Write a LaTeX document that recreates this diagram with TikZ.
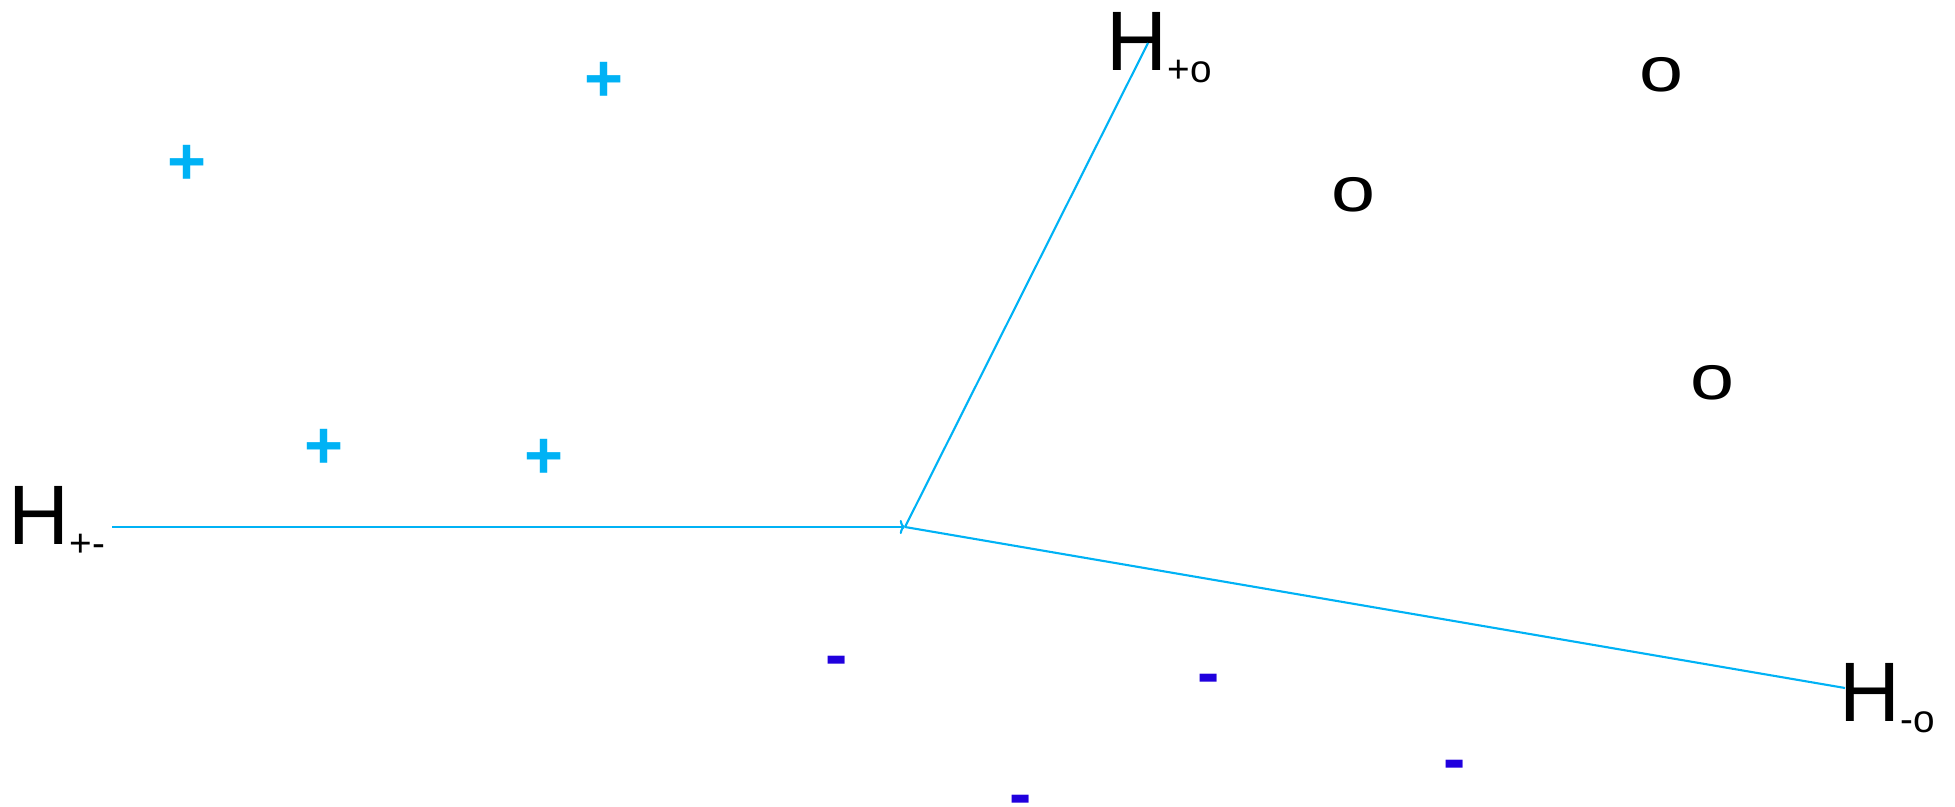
\documentclass[tikz,border=0pt]{standalone}
\usepackage{fontspec}
\setmainfont{Liberation Sans}
\usetikzlibrary{arrows.meta}

\definecolor{plusblue}{RGB}{0,178,245}
\definecolor{minusblue}{RGB}{32,0,222}

\newcommand{\hsub}[1]{\raisebox{-3.4pt}{\fontsize{11}{11}\selectfont #1}}

\tikzset{
  hlabel/.style={inner sep=0pt, anchor=base west, font=\fontsize{24}{24}\selectfont},
  sign/.style={inner sep=0pt, font=\bfseries\fontsize{19}{19}\selectfont},
  ring/.style={inner sep=0pt, xscale=1.25, font=\fontsize{18}{18}\selectfont},
  wire/.style={plusblue, line width=0.6pt}
}

\begin{document}
\begin{tikzpicture}[x=0.01cm,y=-0.01cm]
%
	\useasboundingbox (0,0) rectangle (1955,807);
%
	\node[hlabel] (Hpm) at (8,545) {H\hsub{+-}};
	\node[hlabel] (Hpo) at (1106,71) {H\hsub{+o}};
	\node[hlabel] (Hmo) at (1839,721) {H\hsub{-o}};
%
	\coordinate (c) at (905,527);
	\coordinate (pm) at (112,527);
	\coordinate (po) at (1148,43);
	\coordinate (mo) at (1845,688);
	\draw[wire, -{To[length=1.5pt,width=4pt]}] (pm) -- (c);
	\draw[wire] (c) -- (po);
	\draw[wire] (c) -- (mo);
%
	\node[sign, plusblue] (p1) at (187,165) {+};
	\node[sign, plusblue] (p2) at (604,82) {+};
	\node[sign, plusblue] (p3) at (324,449) {+};
	\node[sign, plusblue] (p4) at (544,459) {+};
%
	\node[ring] (o1) at (1661,75) {o};
	\node[ring] (o2) at (1353,195) {o};
	\node[ring] (o3) at (1712,383) {o};
%
	\node[sign, minusblue] (m1) at (837,667) {-};
	\node[sign, minusblue] (m2) at (1209,685) {-};
	\node[sign, minusblue] (m3) at (1021,806) {-};
	\node[sign, minusblue] (m4) at (1455,771) {-};
%
\end{tikzpicture}
\end{document}
